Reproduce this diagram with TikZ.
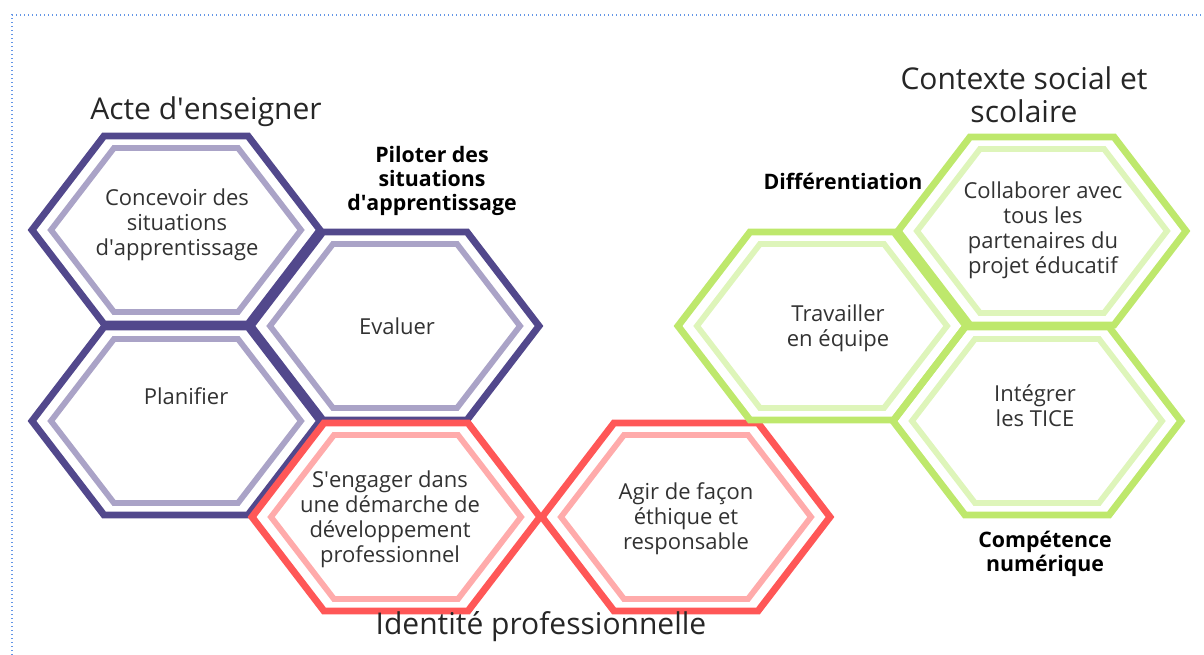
\documentclass[tikz,border=0pt]{standalone}
\usepackage{fontspec}
\setmainfont{Open Sans}
\usepackage{xcolor}
\usepackage{tikz}
\definecolor{purp}{RGB}{82,72,140}
\definecolor{lpurp}{RGB}{170,163,199}
\definecolor{redd}{RGB}{255,87,87}
\definecolor{lredd}{RGB}{255,171,171}
\definecolor{grn}{RGB}{190,232,108}
\definecolor{lgrn}{RGB}{222,245,186}
\definecolor{frameblue}{RGB}{100,150,230}
\definecolor{txt}{RGB}{50,50,50}

\begin{document}
\begin{tikzpicture}[x=0.75pt,y=-0.75pt,
   outerhex/.style={line width=5.2pt},
   innerhex/.style={line width=4.4pt},
   hextext/.style={align=center, text=txt, font=\fontsize{16.5}{18.75}\selectfont},
   bigtitle/.style={align=center, text=black!85, font=\fontsize{22.5}{24.75}\selectfont},
   boldtitle/.style={align=center, text=black, font=\bfseries\fontsize{16}{18}\selectfont}]
   \useasboundingbox (0,0) rectangle (1204,655);
   \draw[frameblue, dotted, line width=1pt] (12,655) -- (12,15) -- (1204,15);
   % hexagons: centre x / centre y / outer colour / inner colour
   \foreach \cx/\cy/\co/\ci in {176/230/purp/lpurp, 176/421/purp/lpurp, 395/326/purp/lpurp,
      396/517/redd/lredd, 686/517/redd/lredd,
      822/326/grn/lgrn, 1042/231/grn/lgrn, 1037/421/grn/lgrn} {
      \draw[outerhex, \co] (\cx-144,\cy) -- ++(72,-94) -- ++(144,0) -- ++(72,94)
         -- ++(-72,94) -- ++(-144,0) -- cycle;
      \draw[innerhex, \ci] (\cx-125,\cy) -- ++(63,-82) -- ++(124,0) -- ++(63,82)
         -- ++(-63,82) -- ++(-124,0) -- cycle;
   }
   % texts in the hexagons
   \node[hextext] (concevoir) at (177,225) {Concevoir des\\situations\\d\textquotesingle apprentissage};
   \node[hextext] (planifier) at (186,396) {Planifier};
   \node[hextext] (evaluer) at (397,326) {Evaluer};
   \node[hextext] (engager) at (390,519) {S\textquotesingle engager dans\\une démarche de\\développement\\professionnel};
   \node[hextext] (agir) at (686,519) {Agir de façon\\éthique et\\responsable};
   \node[hextext] (travailler) at (838,328) {Travailler\\en équipe};
   \node[hextext] (collaborer) at (1043,230) {Collaborer avec\\tous les\\partenaires du\\projet éducatif};
   \node[hextext] (integrer) at (1035,406) {Intégrer\\les TICE};
   % titles
   \node[bigtitle] (acte) at (206,112) {Acte d\textquotesingle enseigner};
   \node[bigtitle] (contexte) at (1024,95) {Contexte social et\\scolaire};
   \node[bigtitle] (identite) at (541,627) {Identité professionnelle};
   \node[boldtitle] (piloter) at (432,181) {Piloter des\\situations\\d\textquotesingle apprentissage};
   \node[boldtitle] (differ) at (843,181) {Différentiation};
   \node[boldtitle] (numerique) at (1045,554) {Compétence\\numérique};
\end{tikzpicture}
\end{document}
